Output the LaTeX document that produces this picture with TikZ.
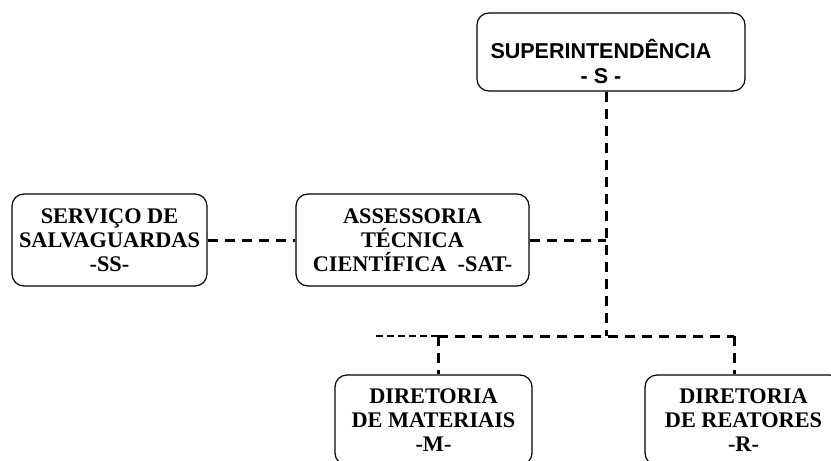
\documentclass[tikz,border=0pt]{standalone}
\usepackage{fontspec}
\setmainfont{Liberation Serif}
\newfontfamily\arialfont{Liberation Sans}
\begin{document}
\begin{tikzpicture}[x=1pt,y=-1pt,
  orgbox/.style={draw, line width=1.2pt, rounded corners=12pt, inner sep=0pt},
  serifbold/.style={align=center, font=\fontsize{22.3}{24}\selectfont\bfseries},
  sansbold/.style={align=center, font=\arialfont\fontsize{21.5}{25}\selectfont\bfseries},
  link/.style={line width=3pt, dash pattern=on 10pt off 7pt},
  thinlink/.style={line width=2pt, dash pattern=on 7pt off 4pt}]
\useasboundingbox (0,0) rectangle (831,461);
\begin{scope}
\clip (0,0) rectangle (831,461);
% boxes
\node[orgbox, minimum width=268pt, minimum height=78pt] (S) at (611,52) {};
\node[sansbold] (St) at (601,61.5) {SUPERINTENDÊNCIA\\- S -};
\node[orgbox, serifbold, minimum width=195pt, minimum height=92pt] (SS) at (109.5,240) {SERVIÇO DE\\SALVAGUARDAS\\-SS-};
\node[orgbox, serifbold, minimum width=233pt, minimum height=92pt] (SAT) at (412.5,240) {ASSESSORIA\\TÉCNICA\\CIENTÍFICA~~-SAT-};
\node[orgbox, serifbold, minimum width=197pt, minimum height=90pt] (M) at (433.5,420) {DIRETORIA\\DE MATERIAIS\\-M-};
\node[orgbox, serifbold, minimum width=197pt, minimum height=90pt] (R) at (743.5,420) {DIRETORIA\\DE REATORES\\-R-};
% junctions
\coordinate (j1) at (606,240);
\coordinate (j2) at (606,336);
\coordinate (jl) at (376,336);
\coordinate (jm) at (438,336);
\coordinate (jr) at (734,336);
% connectors
\draw[link] (j1 |- S.south) -- (j2);
\draw[link] (SAT.east) -- (j1);
\draw[link] (SS.east) -- (SAT.west);
\draw[thinlink] (jl) -- (jm);
\draw[link] (jm) -- (jr);
\draw[link] (jm) -- (jm |- M.north);
\draw[link] (jr) -- (jr |- R.north);
\end{scope}
\end{tikzpicture}
\end{document}
